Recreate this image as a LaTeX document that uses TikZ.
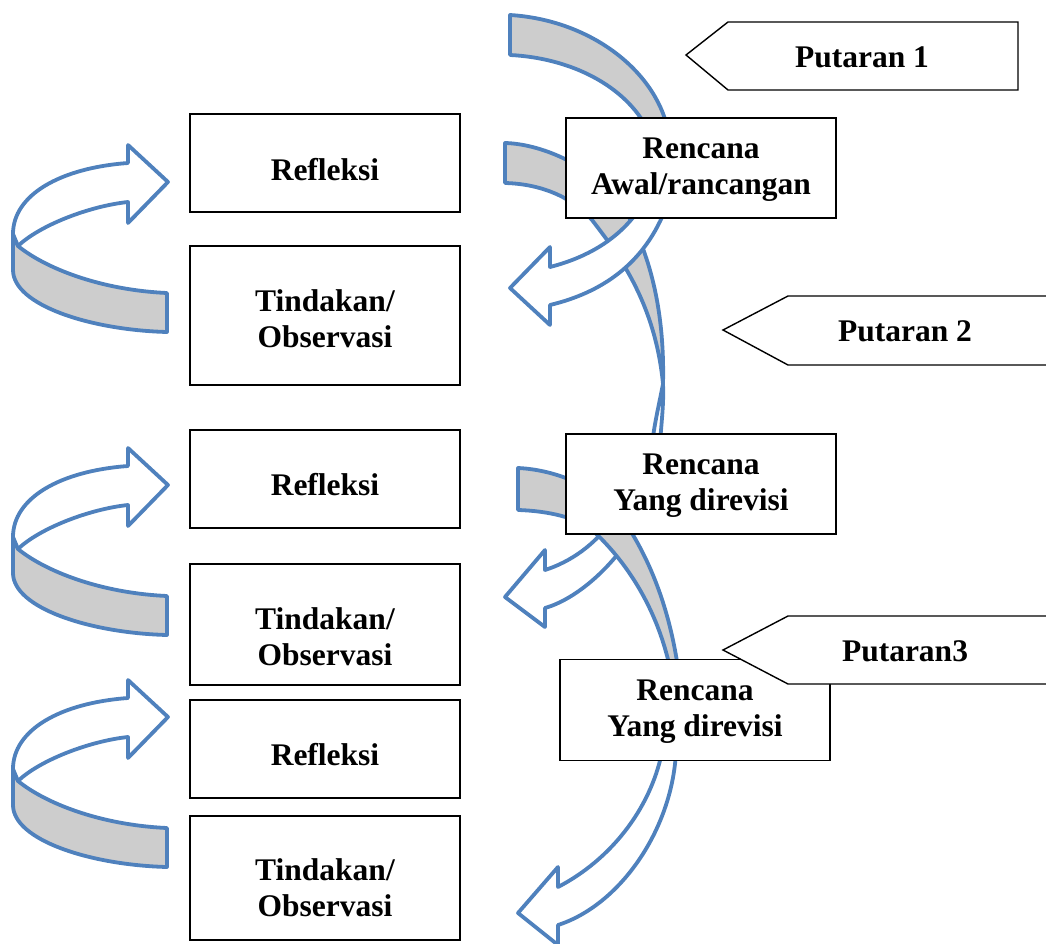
\documentclass[tikz,border=0pt]{standalone}
\usepackage{fontspec}
\setmainfont{Liberation Serif}
\definecolor{ribbon}{HTML}{4F81BD}
\definecolor{bandgrey}{HTML}{CDCDCD}
% U-turn ribbon arrow on the left; #1 = vertical offset
\newcommand\uturnarrow[1]{%
  \begin{scope}[shift={(0,#1)}]
    % grey outer side of the ribbon
    \draw[band] (18,246) .. controls (45,268) and (100,290) .. (167,293)
      -- (167,332) .. controls (90,330) and (13,305) .. (13,270) -- (13,234) -- cycle;
    % white upper face ending in the head
    \draw[face] (13,234) .. controls (13,195) and (60,168) .. (128,163)
      -- (128,145) -- (168,182) -- (128,223) -- (128,202)
      .. controls (90,206) and (40,225) .. (18,246) -- cycle;
  \end{scope}}
\begin{document}
\begin{tikzpicture}[x=1pt,y=-1pt,
  band/.style={draw=ribbon, line width=3.8pt, line join=round, fill=bandgrey},
  face/.style={draw=ribbon, line width=3.8pt, line join=round, fill=white},
  box/.style={draw=black, line width=1.2pt, fill=white, minimum width=270pt, inner sep=0pt},
  boxtext/.style={font=\bfseries\fontsize{31.5}{36}\selectfont, align=center, inner sep=0pt},
  tag/.style={draw=black, line width=1.4pt, fill=white, line join=miter}]
\clip (0,0) rectangle (1046,944);

% left column: three U-turn arrows
\uturnarrow{0}
\uturnarrow{303}
\uturnarrow{535}

% cycle 1: band from the top into the first plan
\draw[band] (510,15) .. controls (590,20) and (655,70) .. (668,130)
  -- (648,130) .. controls (625,85) and (570,58) .. (510,55) -- cycle;

% cycle 2: band through the first plan, twisting on its way down
\draw[band] (505,143) .. controls (545,144) and (600,170) .. (625,210)
  .. controls (645,245) and (665,300) .. (663,384)
  .. controls (655,300) and (615,250) .. (592,220)
  .. controls (575,200) and (545,184) .. (505,183) -- cycle;
\draw[face] (663,384) .. controls (664,405) and (661,425) .. (660,445)
  -- (652,445) .. controls (654,425) and (660,400) .. (663,384) -- cycle;

% cycle 1: returning arrow below the first plan
\draw[face] (642,205) .. controls (620,240) and (585,258) .. (550,267)
  -- (550,247) -- (510,288) -- (550,325) -- (550,305)
  .. controls (600,293) and (645,265) .. (667,205) -- cycle;

\node[box, minimum height=100pt] (plan1) at (701,168) {};
\node[boxtext] (plan1t) at (701,170) {Rencana\\Awal/rancangan};

% cycle 2: returning arrow below the revised plan
\draw[face] (612,520) .. controls (595,545) and (570,562) .. (545,570)
  -- (545,550) -- (505,597) -- (545,627) -- (545,608)
  .. controls (580,598) and (620,560) .. (640,520) -- cycle;

% cycle 3: band through the revised plan down to the last plan
\draw[band] (518,468) .. controls (560,470) and (600,490) .. (620,515)
  .. controls (645,550) and (668,600) .. (678,668)
  -- (670,668) .. controls (655,600) and (620,555) .. (590,528)
  .. controls (575,518) and (550,511) .. (518,510) -- cycle;

\node[box, minimum height=100pt] (plan2) at (701,484) {};
\node[boxtext] (plan2t) at (701,486) {Rencana\\Yang direvisi};

% cycle 3: returning arrow below the last plan
\draw[face] (662,752) .. controls (650,810) and (610,860) .. (558,887)
  -- (558,867) -- (518,913) -- (558,945) -- (558,925)
  .. controls (620,905) and (672,830) .. (676,752) -- cycle;

\node[box, minimum height=101pt] (plan3) at (695,710) {};
\node[boxtext] (plan3t) at (695,712) {Rencana\\Yang direvisi};

% left column boxes
\node[box, minimum height=98pt] (ref1) at (325,163) {};
\node[boxtext] (ref1t) at (325,170) {Refleksi};
\node[box, minimum height=139pt] (act1) at (325,315.5) {};
\node[boxtext] (act1t) at (325,319) {Tindakan/\\Observasi};
\node[box, minimum height=98pt] (ref2) at (325,479) {};
\node[boxtext] (ref2t) at (325,485) {Refleksi};
\node[box, minimum height=121pt] (act2) at (325,624.5) {};
\node[boxtext] (act2t) at (325,637) {Tindakan/\\Observasi};
\node[box, minimum height=98pt] (ref3) at (325,749) {};
\node[boxtext] (ref3t) at (325,755) {Refleksi};
\node[box, minimum height=124pt] (act3) at (325,878) {};
\node[boxtext] (act3t) at (325,888) {Tindakan/\\Observasi};

% cycle labels
\draw[tag] (686,55) -- (728,22) -- (1018,22) -- (1018,90) -- (728,90) -- cycle;
\node[boxtext] (put1) at (862,57) {Putaran 1};
\draw[tag] (723,330) -- (788,296) -- (1060,296) -- (1060,365) -- (788,365) -- cycle;
\node[boxtext] (put2) at (905,331) {Putaran 2};
\draw[tag] (723,650) -- (788,616) -- (1060,616) -- (1060,684) -- (788,684) -- cycle;
\node[boxtext] (put3) at (905,651) {Putaran3};
\end{tikzpicture}
\end{document}
